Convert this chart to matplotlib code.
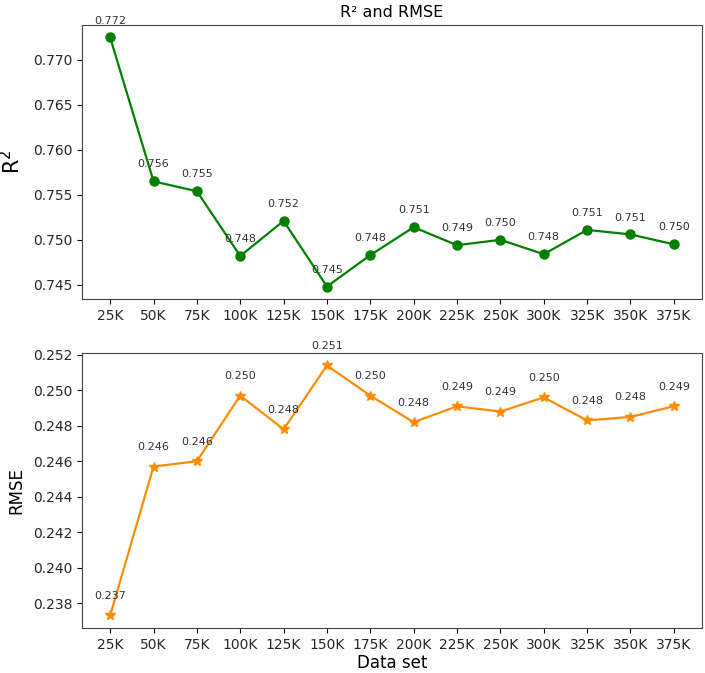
import numpy as np
import matplotlib
matplotlib.use("Agg")
import matplotlib.pyplot as plt

sizes = ["25K", "50K", "75K", "100K", "125K", "150K", "175K",
         "200K", "225K", "250K", "300K", "325K", "350K", "375K"]

r2 = [0.7725, 0.7565, 0.7554, 0.7482, 0.7521, 0.7448, 0.7483,
      0.7514, 0.7494, 0.7500, 0.7484, 0.7511, 0.7506, 0.7495]

rmse = [0.2373, 0.2457, 0.2460, 0.2497, 0.2478, 0.2514, 0.2497,
        0.2482, 0.2491, 0.2488, 0.2496, 0.2483, 0.2485, 0.2491]

fig = plt.figure(figsize=(7.05, 6.73), dpi=100)
ax1 = fig.add_axes([0.1163, 0.5557, 0.8794, 0.4071])
ax2 = fig.add_axes([0.1163, 0.0669, 0.8794, 0.4086])

x = np.arange(len(sizes))

# R2
ax1.plot(x, r2, color="green", marker="o", markersize=6.5, linewidth=1.6)
for xi, v in zip(x, r2):
    ax1.annotate(f"{v:.3f}", (xi, v), textcoords="offset points", xytext=(0, 10),
                 ha="center", fontsize=8, color="#333333")
ax1.set_xticks(x)
ax1.set_xticklabels(sizes)
ax1.set_ylabel(r"$\mathrm{R}^2$", fontsize=15)
ax1.yaxis.set_label_coords(-0.094, 0.5)
ax1.set_title("R² and RMSE", fontsize=11.5)
ax1.tick_params(labelsize=10, labelcolor="#262626")

# RMSE
ax2.plot(x, rmse, color="darkorange", marker="*", markersize=7.5, linewidth=1.6)
for xi, v in zip(x, rmse):
    ax2.annotate(f"{v:.3f}", (xi, v), textcoords="offset points", xytext=(0, 12),
                 ha="center", fontsize=8, color="#333333")
ax2.set_xticks(x)
ax2.set_xticklabels(sizes)
ax2.set_ylabel("RMSE", fontsize=12)
ax2.yaxis.set_label_coords(-0.092, 0.5)
ax2.set_xlabel("Data set", fontsize=12, labelpad=2)
ax2.tick_params(labelsize=10, labelcolor="#262626")

for ax in (ax1, ax2):
    for s in ax.spines.values():
        s.set_color("#444444")

plt.savefig("out.png", dpi=100)
